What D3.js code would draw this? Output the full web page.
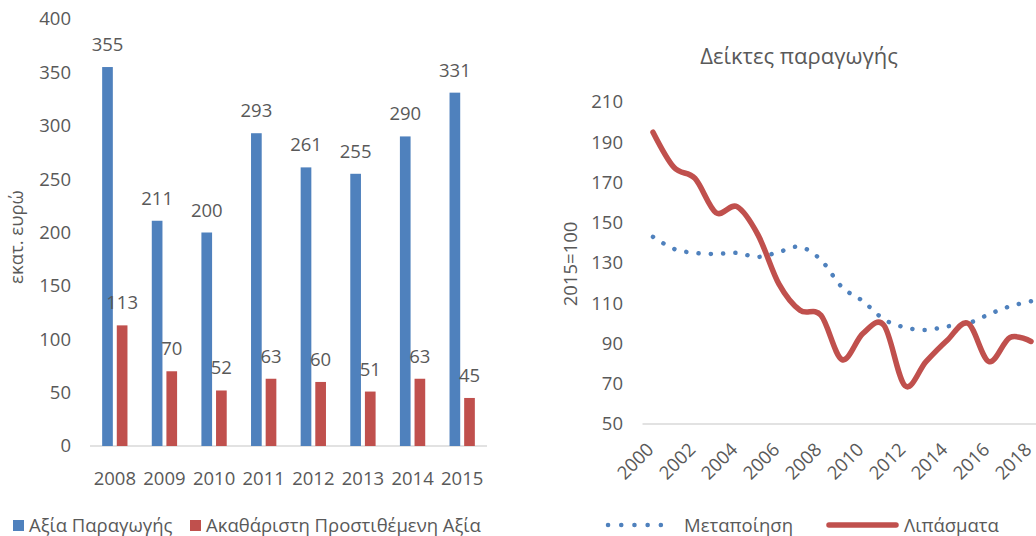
<!DOCTYPE html>
<html>
<head>
<meta charset="utf-8">
<script src="https://cdn.jsdelivr.net/npm/d3@7"></script>
<style>
  body { margin: 0; background: #fff; }
  svg text { font-family: "Open Sans", sans-serif; fill: #595959; }
</style>
</head>
<body>
<div id="chart"></div>
<script>
// left chart: million euros
const years = ["2008", "2009", "2010", "2011", "2012", "2013", "2014", "2015"];
const productionValue = [355, 211, 200, 293, 261, 255, 290, 331];
const grossValueAdded = [113, 70, 52, 63, 60, 51, 63, 45];
const barSeries = ["Αξία Παραγωγής", "Ακαθάριστη Προστιθέμενη Αξία"];
const leftTicks = [0, 50, 100, 150, 200, 250, 300, 350, 400];

// right chart: production indices, 2015=100
const indexYears = [2000, 2001, 2002, 2003, 2004, 2005, 2006, 2007, 2008, 2009,
                    2010, 2011, 2012, 2013, 2014, 2015, 2016, 2017, 2018];
const manufacturing = [143, 137, 135, 134.5, 135, 133, 135.5, 138, 131.5, 118,
                       111, 102, 98, 96.7, 98.5, 100, 104.5, 108.5, 111];
const fertilizers = [195, 177.5, 172, 155, 158, 144, 119.5, 106.5, 104, 82,
                     95, 99, 69, 81, 91.5, 100, 81, 93, 91];
const lineSeries = ["Μεταποίηση", "Λιπάσματα"];
const rightTicks = [50, 70, 90, 110, 130, 150, 170, 190, 210];
const xTickYears = [2000, 2002, 2004, 2006, 2008, 2010, 2012, 2014, 2016, 2018];

const blue = "#4f81bd";
const red = "#c0504d";
const grid = "#d9d9d9";
const fs = "18.5px";

const svg = d3.select("#chart")
  .append("svg")
    .attr("width", 1036)
    .attr("height", 536);

function drawBars() {
  const y = d3.scaleLinear().domain([0, 400]).range([446, 19]);
  const x0 = d3.scaleBand().domain(years).range([90, 487])
    .paddingInner(0.49).paddingOuter(0.245);
  const x1 = d3.scaleBand().domain(barSeries).range([0, x0.bandwidth()])
    .paddingInner(0.27);

  // baseline
  svg.append("line")
    .attr("x1", 90).attr("x2", 487)
    .attr("y1", y(0)).attr("y2", y(0))
    .attr("stroke", grid).attr("stroke-width", 1.3);

  svg.selectAll(".ltick")
    .data(leftTicks)
    .join("text")
      .attr("x", 71)
      .attr("y", d => y(d))
      .attr("dy", "0.35em")
      .attr("text-anchor", "end")
      .style("font-size", fs)
      .text(d => d);

  svg.selectAll(".lcat")
    .data(years)
    .join("text")
      .attr("x", d => x0(d) + x0.bandwidth() / 2)
      .attr("y", 485)
      .attr("text-anchor", "middle")
      .style("font-size", fs)
      .text(d => d);

  svg.append("text")
    .attr("transform", "translate(23, 237) rotate(-90)")
    .attr("text-anchor", "middle")
    .style("font-size", fs)
    .text("εκατ. ευρώ");

  const rows = years.map((yr, i) => [
    { year: yr, key: barSeries[0], value: productionValue[i], color: blue },
    { year: yr, key: barSeries[1], value: grossValueAdded[i], color: red }
  ]).flat();

  svg.selectAll(".bar")
    .data(rows)
    .join("rect")
      .attr("x", d => x0(d.year) + x1(d.key))
      .attr("width", x1.bandwidth())
      .attr("y", d => y(d.value))
      .attr("height", d => y(0) - y(d.value))
      .attr("fill", d => d.color);

  svg.selectAll(".blabel")
    .data(rows)
    .join("text")
      .attr("x", d => x0(d.year) + x1(d.key) + x1.bandwidth() / 2)
      .attr("y", d => y(d.value) - 16)
      .attr("text-anchor", "middle")
      .style("font-size", fs)
      .text(d => d.value);

  // legend
  const leg = svg.append("g");
  leg.append("rect").attr("x", 13).attr("y", 520).attr("width", 11).attr("height", 11).attr("fill", blue);
  leg.append("text").attr("x", 29).attr("y", 532).style("font-size", fs).text(barSeries[0]);
  leg.append("rect").attr("x", 190).attr("y", 520).attr("width", 11).attr("height", 11).attr("fill", red);
  leg.append("text").attr("x", 206).attr("y", 532).style("font-size", fs).text(barSeries[1]);
}

function drawLines() {
  const y = d3.scaleLinear().domain([50, 210]).range([424, 102]);
  const x = d3.scaleBand().domain(indexYears).range([642.5, 1041.5]);
  const cx = d => x(d) + x.bandwidth() / 2;

  svg.append("text")
    .attr("x", 799)
    .attr("y", 64)
    .attr("text-anchor", "middle")
    .style("font-size", "22px")
    .text("Δείκτες παραγωγής");

  svg.append("line")
    .attr("x1", 642.5).attr("x2", 1036)
    .attr("y1", y(50)).attr("y2", y(50))
    .attr("stroke", grid).attr("stroke-width", 1.3);

  svg.selectAll(".rtick")
    .data(rightTicks)
    .join("text")
      .attr("x", 623)
      .attr("y", d => y(d))
      .attr("dy", "0.35em")
      .attr("text-anchor", "end")
      .style("font-size", fs)
      .text(d => d);

  svg.selectAll(".rcat")
    .data(xTickYears)
    .join("text")
      .attr("transform", d => `translate(${cx(d) - 8}, 441) rotate(-45)`)
      .attr("dy", "0.75em")
      .attr("text-anchor", "end")
      .style("font-size", fs)
      .text(d => d);

  svg.append("text")
    .attr("transform", "translate(577, 264) rotate(-90)")
    .attr("text-anchor", "middle")
    .style("font-size", fs)
    .text("2015=100");

  const line = d3.line()
    .x((d, i) => cx(indexYears[i]))
    .y(d => y(d))
    .curve(d3.curveCardinal);

  svg.append("path")
    .attr("d", line(manufacturing))
    .attr("fill", "none")
    .attr("stroke", blue)
    .attr("stroke-width", 4.5)
    .attr("stroke-linecap", "round")
    .attr("stroke-dasharray", "0.1 12.2");

  svg.append("path")
    .attr("d", line(fertilizers))
    .attr("fill", "none")
    .attr("stroke", red)
    .attr("stroke-width", 5.5)
    .attr("stroke-linecap", "round");

  // legend
  svg.append("line")
    .attr("x1", 608).attr("x2", 674).attr("y1", 525).attr("y2", 525)
    .attr("stroke", blue).attr("stroke-width", 4.5)
    .attr("stroke-linecap", "round").attr("stroke-dasharray", "0.1 13.1");
  svg.append("text").attr("x", 684).attr("y", 532).style("font-size", fs).text(lineSeries[0]);
  svg.append("line")
    .attr("x1", 829).attr("x2", 896).attr("y1", 525).attr("y2", 525)
    .attr("stroke", red).attr("stroke-width", 5.5).attr("stroke-linecap", "round");
  svg.append("text").attr("x", 904).attr("y", 532).style("font-size", fs).text(lineSeries[1]);
}

drawBars();
drawLines();
</script>
</body>
</html>
